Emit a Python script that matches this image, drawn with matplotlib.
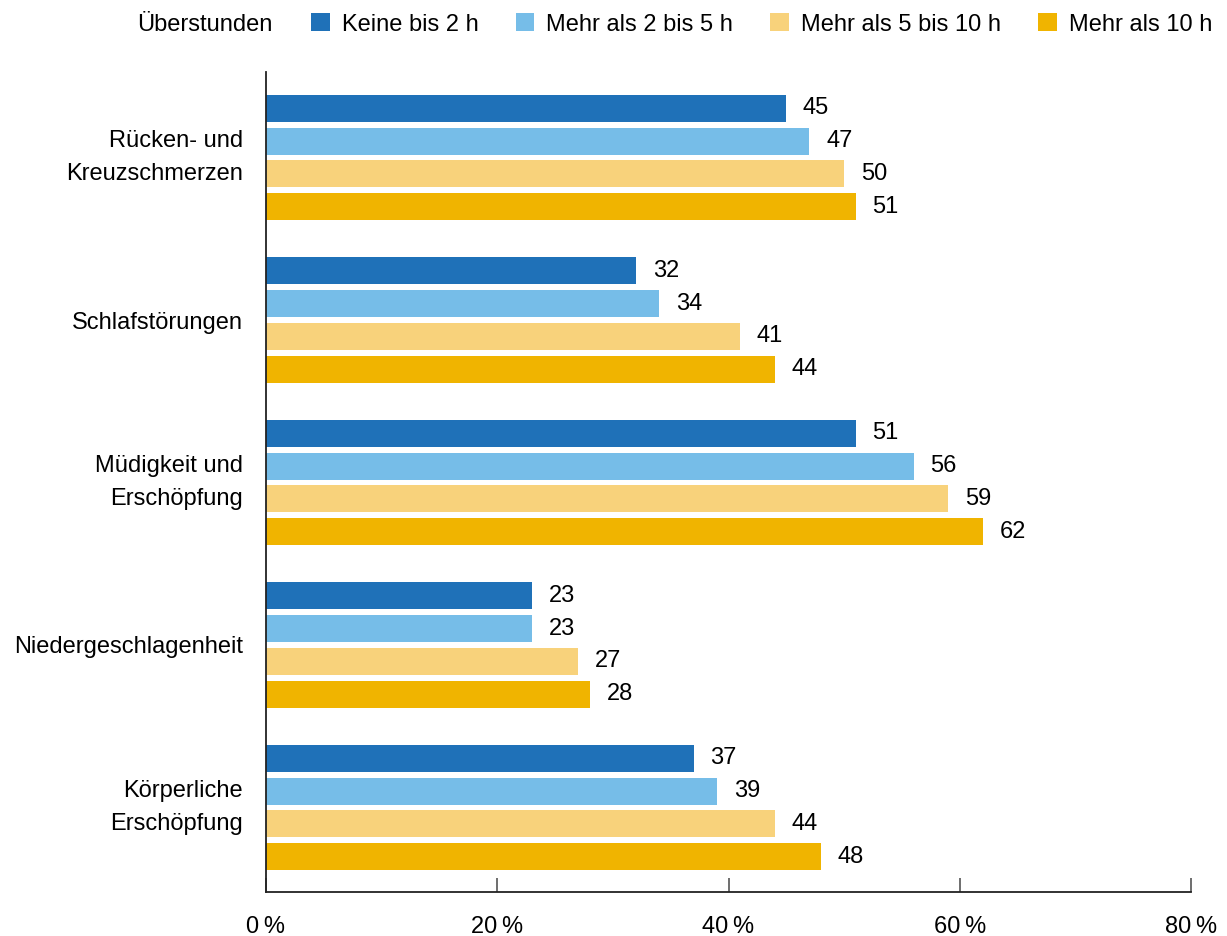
import numpy as np
import matplotlib.pyplot as plt
from matplotlib.patches import Patch

plt.rcParams['font.family'] = ['Liberation Sans', 'DejaVu Sans']

# Data
categories = ['Rücken- und\nKreuzschmerzen', 'Schlafstörungen', 'Müdigkeit und\nErschöpfung',
              'Niedergeschlagenheit', 'Körperliche\nErschöpfung']
series_names = ['Keine bis 2 h', 'Mehr als 2 bis 5 h', 'Mehr als 5 bis 10 h', 'Mehr als 10 h']
keine_2h = [45, 32, 51, 23, 37]
mehr_2_5h = [47, 34, 56, 23, 39]
mehr_5_10h = [50, 41, 59, 27, 44]
mehr_10h = [51, 44, 62, 28, 48]
series = [keine_2h, mehr_2_5h, mehr_5_10h, mehr_10h]
colors = ['#1f71b8', '#76bde8', '#f8d27b', '#f0b400']
xticks = [0, 20, 40, 60, 80]

# layout (vertical units ~ pixels)
group_gap = 162.5
bar_pitch = 32.7
bar_h = 27

fig = plt.figure(figsize=(12.27, 9.36), dpi=100)
ax = fig.add_axes([266 / 1227, 44 / 936, (1191 - 266) / 1227, (892 - 72) / 936])

g = np.arange(len(categories)) * group_gap
for j, (vals, c) in enumerate(zip(series, colors)):
    bars = ax.barh(g + j * bar_pitch, vals, height=bar_h, color=c, label=series_names[j])
    ax.bar_label(bars, labels=[str(v) for v in vals], padding=12, fontsize=17)

centers = g + 1.5 * bar_pitch
ax.set_yticks(centers)
ax.set_yticklabels(categories, fontsize=17, linespacing=1.6, ha='right')
for lbl in ax.get_yticklabels():
    if '\n' in lbl.get_text():
        lbl.set_va('center')
ax.tick_params(axis='y', length=0, pad=16.5)

ax.set_xlim(0, 80)
ax.set_ylim(g[-1] + 3 * bar_pitch + 35.5, -36.5)
ax.set_xticks(xticks)
ax.set_xticklabels([f'{t}\u2009%' for t in xticks], fontsize=17)
ax.tick_params(axis='x', direction='in', length=10, width=1.2, color='#555555', pad=17)

for s in ['top', 'right']:
    ax.spines[s].set_visible(False)
for s in ['left', 'bottom']:
    ax.spines[s].set_linewidth(1.3)
    ax.spines[s].set_color('#222222')

# legend
fig.text(137 / 1227, 1 - 25 / 936, 'Überstunden', fontsize=17, ha='left', va='center')
handles = [Patch(facecolor=c, edgecolor='none') for c in colors]
fig.legend(handles, series_names, loc='center left', bbox_to_anchor=(311 / 1227, 1 - 24.5 / 936),
           ncol=4, frameon=False, fontsize=17, borderpad=0, borderaxespad=0,
           handlelength=0.8, handleheight=0.8, handletextpad=0.5, columnspacing=1.57)

plt.savefig('out.png', dpi=100)
